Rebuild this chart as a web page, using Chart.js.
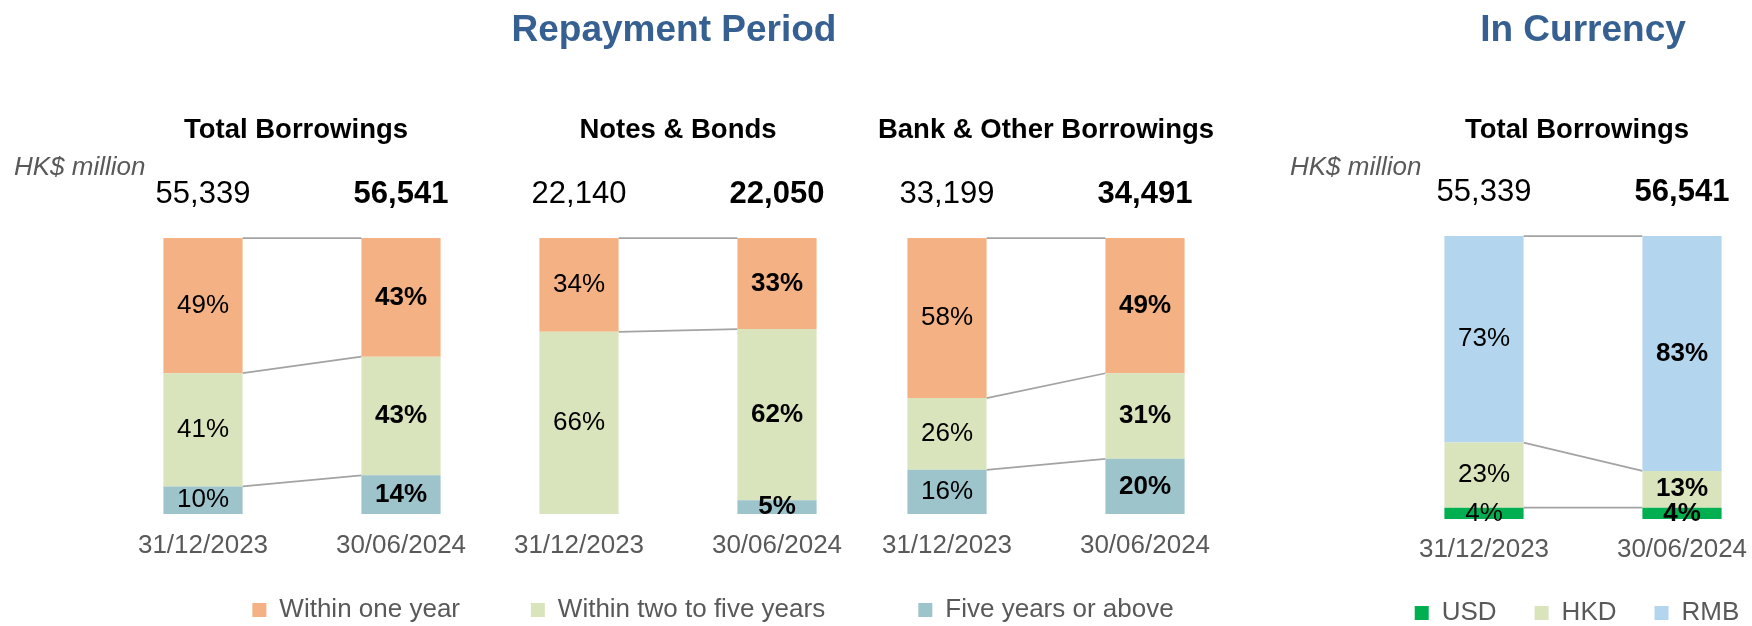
<!DOCTYPE html>
<html>
<head>
<meta charset="utf-8">
<title>Borrowings</title>
<script src="https://cdn.jsdelivr.net/npm/chart.js@4.4.0/dist/chart.umd.min.js"></script>
<style>
  body { margin: 0; background: #fff; width: 1752px; height: 626px; overflow: hidden; position: relative;
         font-family: 'Liberation Sans', Arial, sans-serif; }
  canvas { position: absolute; top: 0; }
  .head { position: absolute; top: 10px; width: 400px; text-align: center; font-weight: bold;
          font-size: 37px; line-height: 37px; color: #376092; }
  .unit { position: absolute; top: 153px; font-style: italic; font-size: 26px; line-height: 26px; color: #595959; }
</style>
</head>
<body>
<canvas id="totalChart" width="408" height="633" style="left:92px"></canvas>
<canvas id="notesChart" width="396" height="633" style="left:480px"></canvas>
<canvas id="bankChart" width="396" height="633" style="left:848px"></canvas>
<canvas id="currencyChart" width="554" height="636" style="left:1300px"></canvas>
<div class="head" style="left:474px">Repayment Period</div>
<div class="head" style="left:1383px">In Currency</div>
<div class="unit" style="left:14px">HK$ million</div>
<div class="unit" style="left:1290px">HK$ million</div>
<script>
const FONT = "'Liberation Sans', Arial, sans-serif";
Chart.defaults.font.family = FONT;
Chart.defaults.color = '#595959';

// x axis: the two balance dates
const periods = ['31/12/2023', '30/06/2024'];

// repayment buckets, stacked from the bottom up
const repaySeries = ['Five years or above', 'Within two to five years', 'Within one year'];
const repayColors = ['#9DC3CB', '#D9E3BC', '#F4B183'];

// total borrowings: HK$ million and share of each bucket (%)
const totalAmount = [55339, 56541];
const totalOver5 = [10, 14];
const total2to5 = [41, 43];
const totalWithin1 = [49, 43];

// notes & bonds
const notesAmount = [22140, 22050];
const notesOver5 = [0, 5];
const notes2to5 = [66, 62];
const notesWithin1 = [34, 33];

// bank & other borrowings
const bankAmount = [33199, 34491];
const bankOver5 = [16, 20];
const bank2to5 = [26, 31];
const bankWithin1 = [58, 49];

// currency split of total borrowings (%)
const currencySeries = ['USD', 'HKD', 'RMB'];
const currencyColors = ['#00B050', '#D9E3BC', '#B4D5EE'];
const usdShare = [4, 4];
const hkdShare = [23, 13];
const rmbShare = [73, 83];

// series lines between the bars, % labels inside segments, totals on top
const barLabels = {
    id: 'barLabels',
    beforeDatasetsDraw(chart) {
        const ctx = chart.ctx;
        ctx.save();
        ctx.strokeStyle = '#A3A3A3';
        ctx.lineWidth = 1.75;
        chart.data.datasets.forEach((ds, i) => {
            if (!ds.data[0] || !ds.data[1]) return;
            const [a, b] = chart.getDatasetMeta(i).data;
            ctx.beginPath();
            ctx.moveTo(a.x + a.width / 2, a.y);
            ctx.lineTo(b.x - b.width / 2, b.y);
            ctx.stroke();
        });
        ctx.restore();
    },
    afterDatasetsDraw(chart, args, opts) {
        const ctx = chart.ctx;
        ctx.save();
        ctx.textAlign = 'center';
        ctx.fillStyle = '#000';
        ctx.textBaseline = 'middle';
        chart.data.datasets.forEach((ds, i) => {
            chart.getDatasetMeta(i).data.forEach((bar, j) => {
                if (!ds.data[j]) return;
                ctx.font = (j === 1 ? 'bold ' : '') + '26px ' + FONT;
                ctx.fillText(ds.data[j] + '%', bar.x, (bar.y + bar.base) / 2);
            });
        });
        // totals (HK$ million) above each bar
        const topBars = chart.getDatasetMeta(chart.data.datasets.length - 1).data;
        ctx.textBaseline = 'alphabetic';
        opts.totals.forEach((v, j) => {
            ctx.font = (j === 1 ? 'bold ' : '') + '31px ' + FONT;
            ctx.fillText(v.toLocaleString('en-US'), topBars[j].x, chart.chartArea.top - 35);
        });
        ctx.restore();
    }
};

function makeChart(canvasId, series, colors, values, opt) {
    const datasets = series.map((name, i) => ({
        label: name,
        data: values[i],
        backgroundColor: colors[i],
        borderWidth: 0,
        barPercentage: 0.4,
        categoryPercentage: 1
    }));

    return new Chart(document.getElementById(canvasId), {
        type: 'bar',
        data: { labels: periods, datasets: datasets },
        options: {
            responsive: false,
            animation: false,
            layout: { padding: 0 },
            plugins: {
                title: {
                    display: true,
                    text: opt.title,
                    color: '#000',
                    font: { size: 27.5, weight: 'bold' },
                    padding: { top: 113.5, bottom: opt.plotTop - 113.5 - 33 }
                },
                legend: {
                    position: 'bottom',
                    align: opt.legendAlign || 'center',
                    labels: {
                        boxWidth: 14,
                        boxHeight: 14,
                        padding: opt.legendPad,
                        color: '#595959',
                        font: { size: 26 },
                        filter: opt.legendFilter
                    }
                },
                tooltip: { enabled: false },
                barLabels: { totals: opt.totals }
            },
            scales: {
                x: {
                    stacked: true,
                    grid: { display: false, drawTicks: false },
                    border: { display: false },
                    ticks: { color: '#595959', font: { size: 26 }, padding: opt.tickPad, maxRotation: 0, autoSkip: false },
                    afterFit: s => { s.height = s.chart.height - s.chart.legend.height - opt.plotBottom; }
                },
                y: {
                    stacked: true,
                    min: 0,
                    max: 100,
                    ticks: { display: false },
                    grid: { display: false },
                    border: { display: false },
                    afterFit: s => { s.width = opt.padLeft || 0; }
                },
                yRight: {
                    type: 'linear',
                    position: 'right',
                    ticks: { display: false },
                    grid: { display: false },
                    border: { display: false },
                    afterFit: s => { s.width = opt.padRight || 0; }
                }
            }
        },
        plugins: [barLabels]
    });
}

makeChart('totalChart', repaySeries, repayColors, [totalOver5, total2to5, totalWithin1], {
    title: 'Total Borrowings', totals: totalAmount, plotTop: 238, plotBottom: 514, tickPad: 16,
    padLeft: 12, legendAlign: 'end', legendPad: 40, legendFilter: item => item.datasetIndex === 2
});

makeChart('notesChart', repaySeries, repayColors, [notesOver5, notes2to5, notesWithin1], {
    title: 'Notes & Bonds', totals: notesAmount, plotTop: 238, plotBottom: 514, tickPad: 16,
    legendPad: 10, legendFilter: item => item.datasetIndex === 1
});

makeChart('bankChart', repaySeries, repayColors, [bankOver5, bank2to5, bankWithin1], {
    title: 'Bank & Other Borrowings', totals: bankAmount, plotTop: 238, plotBottom: 514, tickPad: 16,
    legendPad: 10, legendFilter: item => item.datasetIndex === 0
});

makeChart('currencyChart', currencySeries, currencyColors, [usdShare, hkdShare, rmbShare], {
    title: 'Total Borrowings', totals: totalAmount, plotTop: 236, plotBottom: 519, tickPad: 15,
    padLeft: 85, padRight: 73, legendPad: 38
});
</script>
</body>
</html>
